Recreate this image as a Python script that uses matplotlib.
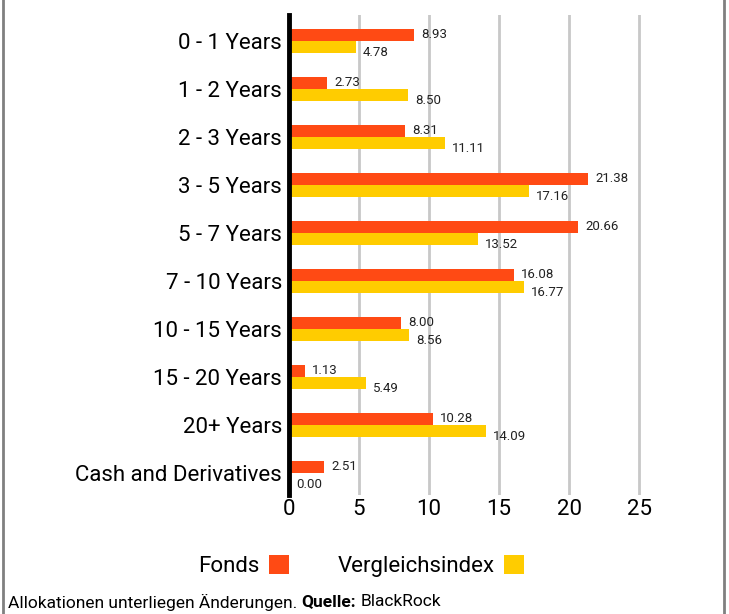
import matplotlib
matplotlib.use("Agg")
import matplotlib.pyplot as plt
from matplotlib.lines import Line2D
import numpy as np

plt.rcParams['font.family'] = ['Roboto', 'DejaVu Sans']

categories = ["0 - 1 Years", "1 - 2 Years", "2 - 3 Years", "3 - 5 Years", "5 - 7 Years",
              "7 - 10 Years", "10 - 15 Years", "15 - 20 Years", "20+ Years", "Cash and Derivatives"]
fonds = [8.93, 2.73, 8.31, 21.38, 20.66, 16.08, 8.00, 1.13, 10.28, 2.51]
index_vals = [4.78, 8.50, 11.11, 17.16, 13.52, 16.77, 8.56, 5.49, 14.09, 0.00]
x_ticks = [0, 5, 10, 15, 20, 25]

red = "#FF4A14"
yellow = "#FFCC00"

fig = plt.figure(figsize=(7.29, 6.14), dpi=100)
ax = fig.add_axes([289/729, 1-495/614, (681-289)/729, (495-15)/614])

y = np.arange(len(categories))
h = 0.25
ax.barh(y - h/2, fonds, height=h, color=red, label="Fonds", zorder=3)
ax.barh(y + h/2, index_vals, height=h, color=yellow, label="Vergleichsindex", zorder=3)

for yi, v in zip(y, fonds):
    ax.annotate(f"{v:.2f}", (v, yi - h/2), xytext=(5, 0), textcoords="offset points",
                ha="left", va="center", fontsize=9.5, color="#222222")
for yi, v in zip(y, index_vals):
    ax.annotate(f"{v:.2f}", (v, yi + h/2), xytext=(5, -4), textcoords="offset points",
                ha="left", va="center", fontsize=9.5, color="#222222")

ax.set_xlim(0, 28)
ax.set_ylim(len(categories) - 0.54, -0.54)
ax.set_yticks(y)
ax.set_yticklabels(categories, fontsize=16)
ax.set_xticks(x_ticks)
ax.tick_params(axis="x", labelsize=16, length=0, pad=3)
ax.tick_params(axis="y", length=0, pad=5)
ax.grid(axis="x", color="#c8c8c8", linewidth=2, zorder=0)
for s in ["top", "right", "bottom"]:
    ax.spines[s].set_visible(False)
ax.spines["left"].set_linewidth(3.5)
ax.spines["left"].set_color("black")
ax.spines["left"].set_zorder(5)

leg = fig.legend(loc="center", bbox_to_anchor=(361/729, 1-566/614), ncol=2, frameon=False,
                 markerfirst=False, fontsize=16, handlelength=0.9, handleheight=0.9,
                 columnspacing=2.2, handletextpad=0.4)

# footer text with bold part
fs = 12.5
t1 = fig.text(8/729, 1-602/614, "Allokationen unterliegen Änderungen. ", fontsize=fs, va="center")
fig.canvas.draw()
bb = t1.get_window_extent()
t2 = fig.text(bb.x1/729, 1-602/614, "Quelle:", fontsize=fs, va="center", fontweight="bold")
fig.canvas.draw()
bb2 = t2.get_window_extent()
fig.text(bb2.x1/729 + 4/729, 1-602/614, "BlackRock", fontsize=fs, va="center")

# side borders
fig.add_artist(Line2D([3/729, 3/729], [0, 1], transform=fig.transFigure, color="#808080", linewidth=2))
fig.add_artist(Line2D([724/729, 724/729], [0, 1], transform=fig.transFigure, color="#808080", linewidth=2))

fig.savefig("out.png", dpi=100)
